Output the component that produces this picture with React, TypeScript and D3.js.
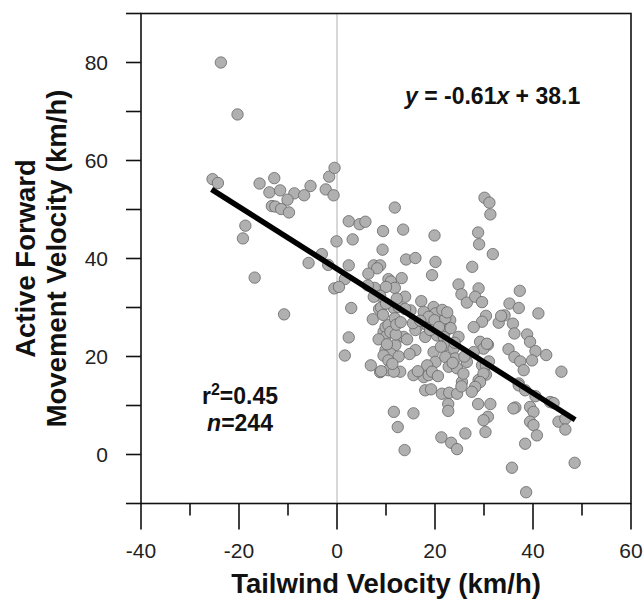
import React from "react";
import * as d3 from "d3";

// Tailwind velocity (km/h)
const tailwind = [
  -23.7, -20.3, -25.4, -24.3, -15.8, -12.8, -13.8, -11.6, -8.7, -6.7, -5.4, -10.1, -13.3, -12.6, -11.4, -9.8, -2.3, -1.6, -0.5, -0.7,
  -18.7, -19.2, -16.8, -10.8, -5.8, -3.1, -1.8, -0.1,
  2.4, 4.6, 5.8, 3.2, 9.4, 9.3, 2.4, 1.6, -0.55, 0.4, 2.9, 2.4, 1.6, 6.9, 8.8, 11.6,
  11.8, 13.5, 19.9, 14.1, 16.0, 20.1, 7.5, 8.8, 8.2, 27.6, 30.1, 31.1, 31.3, 28.8, 29.0, 31.8,
  6.4, 10.5, 11.0, 11.8, 7.7, 6.3, 10.0, 8.8, 7.5, 13.9, 17.2, 19.7, 8.6, 11.6, 12.6, 15.0, 17.7, 20.1, 24.8, 25.4,
  26.5, 19.4, 7.3, 9.5, 9.9, 10.5, 11.8, 9.9, 11.9, 9.9, 10.9, 9.5, 10.5, 13.6, 16.0, 16.3, 18.4, 18.0, 20.4, 19.7,
  20.1, 18.4, 23.1, 22.4, 21.8, 22.1, 24.8, 23.8, 24.1, 22.1, 22.8, 24.5, 25.5, 26.5, 15.6, 17.7, 18.7, 19.4, 10.5, 12.9,
  11.6, 13.9, 18.7, 19.9, 22.1, 16.0, 19.0, 10.9, 12.0, 12.6, 14.3, 20.8, 21.2, 9.0,
  28.9, 28.2, 29.6, 37.3, 35.2, 37.1, 41.1, 30.4, 34.2, 29.6, 27.9, 33.0, 35.9, 36.2, 38.8, 39.4, 29.2, 30.8, 29.9, 27.9,
  35.0, 40.5, 42.7, 36.2, 37.4, 39.8, 29.6, 30.4, 30.4, 38.1, 45.8, 28.9, 37.1, 30.6, 29.9,
  15.6, 12.4, 13.8, 21.3, 23.3, 24.5, 26.2, 22.7, 22.7, 18.0, 19.2, 21.4, 22.9, 24.5, 25.4, 29.2, 28.2, 28.8, 31.3, 30.8,
  29.9, 30.3, 37.1, 38.4, 40.5, 36.4, 36.0, 39.4, 40.1, 39.4, 40.1, 40.8, 38.4, 43.5, 44.2, 45.2, 46.6, 46.6, 35.7, 48.5,
  38.6,
  8.5, 10.2, 11.3, 9.0, 12.1, 13.0, 15.5, 17.0, 21.5, 22.5, 23.2, 24.0, 26.0, 25.8, 31.0, 33.5, 20.6, 23.6, 27.5, 9.4,
  14.8, 16.5, 10.0, 12.2, 13.2,
];

// Active forward movement velocity (km/h)
const forward = [
  80.0, 69.4, 56.2, 55.4, 55.3, 56.4, 53.5, 53.9, 53.3, 52.9, 54.8, 52.0, 50.7, 50.6, 50.1, 49.4, 54.1, 56.7, 58.5, 52.9,
  46.7, 44.1, 36.1, 28.6, 39.1, 40.9, 38.7, 43.5,
  47.6, 47.0, 47.5, 43.9, 45.6, 41.8, 38.6, 35.8, 33.9, 34.2, 29.9, 23.9, 20.2, 18.2, 16.8, 8.7,
  50.4, 45.9, 44.7, 39.8, 40.1, 39.3, 38.6, 38.6, 38.0, 38.3, 52.4, 51.4, 49.0, 45.3, 42.9, 40.9,
  36.9, 35.8, 35.3, 34.0, 34.0, 34.5, 34.2, 32.4, 32.2, 32.2, 31.3, 30.1, 29.7, 29.9, 30.1, 29.4, 29.1, 28.8, 34.7, 32.7,
  31.0, 36.6, 27.6, 25.0, 26.0, 26.4, 27.8, 24.0, 22.3, 21.3, 20.6, 20.2, 19.2, 24.0, 21.3, 26.0, 26.4, 24.0, 24.3, 20.9,
  18.9, 18.2, 27.4, 25.4, 24.0, 22.3, 24.0, 21.6, 19.6, 19.9, 17.9, 17.6, 14.8, 18.9, 16.2, 15.8, 16.2, 16.9, 17.2, 16.9,
  16.9, 29.7, 28.1, 27.4, 27.8, 25.4, 25.4, 25.0, 24.5, 20.0, 23.5, 26.0, 22.0, 30.0,
  33.9, 32.2, 31.1, 33.4, 30.8, 29.9, 28.8, 28.3, 28.4, 27.1, 26.0, 26.9, 26.7, 24.7, 24.5, 23.0, 23.0, 22.4, 21.6, 20.9,
  21.5, 21.1, 20.3, 19.9, 19.0, 19.2, 18.2, 18.2, 16.3, 17.2, 16.9, 15.2, 14.5, 22.6, 16.5,
  8.4, 5.6, 0.9, 3.5, 2.4, 1.1, 4.3, 10.3, 8.9, 13.1, 13.3, 12.4, 12.6, 12.4, 13.9, 14.8, 13.8, 10.3, 10.3, 7.7,
  7.0, 4.6, 14.1, 13.1, 11.9, 9.6, 9.4, 9.7, 8.7, 6.7, 6.0, 3.9, 2.2, 10.7, 10.5, 6.7, 7.3, 5.1, -2.7, -1.7,
  -7.7,
  23.5, 22.5, 18.5, 17.0, 26.5, 27.0, 26.8, 27.3, 29.5, 29.0, 25.8, 22.8, 20.0, 16.5, 19.0, 28.3, 16.0, 18.7, 12.8, 28.5,
  20.5, 17.0, 30.8, 31.8, 36.0,
];

// Regression line end points (y = -0.61x + 38.1)
const fitX = [-25.6, 48.6];
const fitY = [54.1, 7.1];

const xMajorTicks = [-40, -20, 0, 20, 40, 60];
const xMinorTicks = [-30, -10, 10, 30, 50];
const yTicks = [-10, 0, 10, 20, 30, 40, 50, 60, 70, 80, 90];
const yLabels = [0, 20, 40, 60, 80];

const FONT = "'Liberation Sans', Arial, Helvetica, sans-serif";

export default function App() {
  const x = d3.scaleLinear().domain([-40, 60]).range([141, 631]);
  const y = d3.scaleLinear().domain([-10, 90]).range([503.5, 13.5]);
  const points = tailwind.map((t, i) => ({ t, f: forward[i] }));
  const line = d3
    .line<number>()
    .x((d) => x(d))
    .y((_, i) => y(fitY[i]));

  const left = x(-40);
  const right = x(60);
  const top = y(90);
  const bottom = y(-10);

  return (
    <svg
      width={644}
      height={600}
      style={{ position: "absolute", left: 0, top: 0, background: "#fff" }}
      fontFamily={FONT}
    >
      {/* zero line */}
      <line x1={x(0)} x2={x(0)} y1={top} y2={bottom} stroke="#b0b0b0" strokeWidth={1} />

      {/* points */}
      {points.map((p, i) => (
        <circle
          key={i}
          cx={x(p.t)}
          cy={y(p.f)}
          r={5.7}
          fill="#b0b0b0"
          stroke="#666"
          strokeWidth={0.8}
        />
      ))}

      {/* regression line */}
      <path d={line(fitX) || ""} stroke="#000" strokeWidth={5.5} fill="none" />

      {/* frame */}
      <rect x={left} y={top} width={right - left} height={bottom - top} fill="none" stroke="#111" strokeWidth={1.6} />

      {/* y ticks */}
      {yTicks.map((v) => (
        <line key={"yt" + v} x1={left - 15} x2={left} y1={y(v)} y2={y(v)} stroke="#111" strokeWidth={1.6} />
      ))}
      {yLabels.map((v) => (
        <text key={"yl" + v} x={108} y={y(v)} dy="0.36em" textAnchor="end" fontSize={21} fill="#222">
          {v}
        </text>
      ))}

      {/* x ticks */}
      {xMajorTicks.map((v) => (
        <line key={"xt" + v} x1={x(v)} x2={x(v)} y1={bottom} y2={bottom + 26} stroke="#111" strokeWidth={1.6} />
      ))}
      {xMinorTicks.map((v) => (
        <line key={"xm" + v} x1={x(v)} x2={x(v)} y1={bottom} y2={bottom + 12} stroke="#111" strokeWidth={1.6} />
      ))}
      {xMajorTicks.map((v) => (
        <text key={"xl" + v} x={x(v)} y={558} textAnchor="middle" fontSize={21} fill="#222">
          {v}
        </text>
      ))}

      {/* axis titles */}
      <text x={(left + right) / 2} y={593} textAnchor="middle" fontSize={27.5} fontWeight="bold" fill="#111">
        Tailwind Velocity (km/h)
      </text>
      <g transform={`translate(35, ${(top + bottom) / 2}) rotate(-90)`}>
        <text x={0} y={0} textAnchor="middle" fontSize={27.5} fontWeight="bold" fill="#111">
          Active Forward
        </text>
      </g>
      <g transform={`translate(66, ${(top + bottom) / 2}) rotate(-90)`}>
        <text x={0} y={0} textAnchor="middle" fontSize={27.5} fontWeight="bold" fill="#111">
          Movement Velocity (km/h)
        </text>
      </g>

      {/* annotations */}
      <text x={405} y={104} fontSize={23} fontWeight="bold" fill="#111">
        <tspan fontStyle="italic">y</tspan>
        <tspan> = -0.61</tspan>
        <tspan fontStyle="italic">x</tspan>
        <tspan> + 38.1</tspan>
      </text>
      <text x={240} y={404} textAnchor="middle" fontSize={23} fontWeight="bold" fill="#111">
        <tspan>r</tspan>
        <tspan dy={-9} fontSize={16}>2</tspan>
        <tspan dy={9}>=0.45</tspan>
      </text>
      <text x={240} y={431} textAnchor="middle" fontSize={23} fontWeight="bold" fill="#111">
        <tspan fontStyle="italic">n</tspan>
        <tspan>=244</tspan>
      </text>
    </svg>
  );
}
